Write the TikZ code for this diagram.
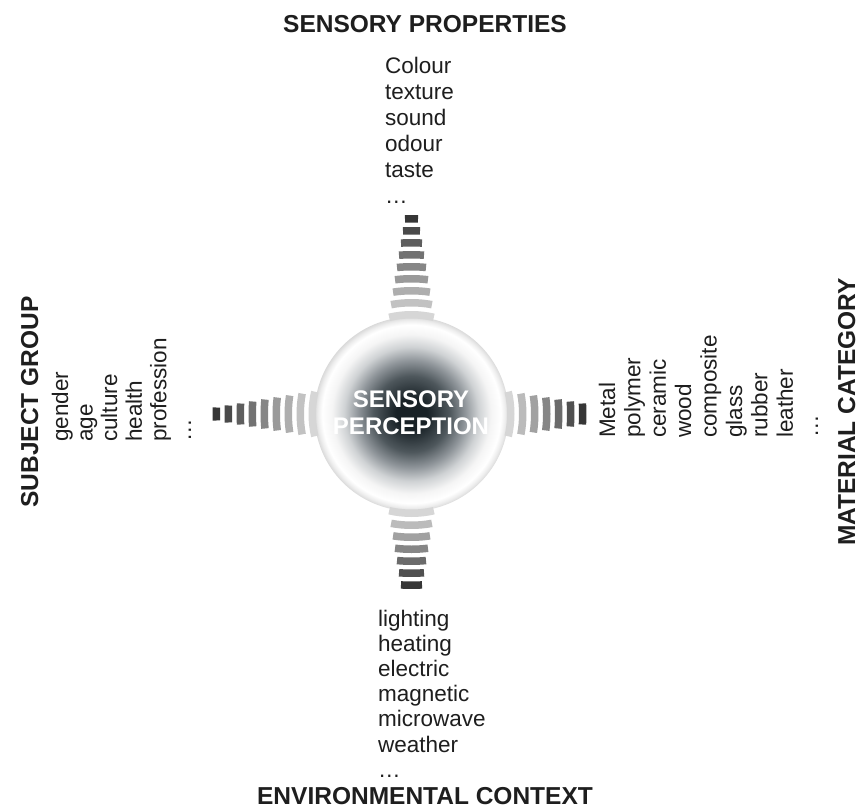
\documentclass[tikz,border=0pt]{standalone}
\usepackage{fontspec}
\setmainfont{Liberation Sans}
\usetikzlibrary{calc}

\definecolor{coredark}{HTML}{182126}
\definecolor{coremid}{HTML}{4E575C}
\definecolor{corelight}{HTML}{8F959A}
\definecolor{corepale}{HTML}{CFD2D4}
\definecolor{rimgray}{HTML}{DADADA}
\definecolor{inkgray}{HTML}{1E1E1E}

% dark core fading to white, with a pale grey rim (25bp = disc radius)
\pgfdeclareradialshading{perceptcore}{\pgfpoint{0bp}{0bp}}{%
  color(0bp)=(coredark); color(4bp)=(coredark); color(9.8bp)=(coremid);
  color(13.8bp)=(corelight); color(17.3bp)=(corepale); color(20.5bp)=(white!96!black);
  color(23bp)=(white); color(24.15bp)=(white!93!black); color(25bp)=(rimgray);
  color(50bp)=(rimgray)}

\tikzset{
  headline/.style={font=\fontsize{24.5}{28}\selectfont\bfseries, inner sep=0pt, text=inkgray},
  entry/.style={font=\fontsize{22.5}{25.8}\selectfont, inner sep=0pt, text=inkgray},
  coretext/.style={font=\fontsize{24}{27}\selectfont\bfseries, inner sep=0pt, text=white, align=center},
}

% a fan of curved bars leaving the disc: #1 direction, #2 index of the last bar
\newcommand\barfan[2]{%
  \foreach \k in {0,...,#2} {
    \pgfmathsetmacro\rin{95.5+12*\k}
    \pgfmathsetmacro\rout{\rin+7.5}
    \pgfmathsetmacro\half{(22.5-2*\k)/(\rin+3.75)*57.2958}
    \pgfmathsetmacro\pct{16+63*\k/#2}
    \fill[black!\pct]
      ($(C)+(#1-\half:\rin pt)$)
      arc[start angle=#1-\half, end angle=#1+\half, radius=\rin pt]
      -- ($(C)+(#1+\half:\rout pt)$)
      arc[start angle=#1+\half, end angle=#1-\half, radius=\rout pt]
      -- cycle;
  }%
}

\begin{document}
\begin{tikzpicture}[x=1pt,y=1pt]
  \useasboundingbox (0,0) rectangle (862,-808);
  \fill[white] (0,0) rectangle (862,-808);

  \coordinate (C) at (411.5,-414);

  % central disc
  \shade[shading=perceptcore] (C) circle[radius=97pt];
  \node[coretext] (perception) at (411,-413) {SENSORY\\PERCEPTION};

  % bar fans
  \barfan{90}{8}
  \barfan{180}{8}
  \barfan{0}{6}
  \barfan{270}{6}

  % top: sensory properties
  \node[headline, anchor=base] (sensprop) at (425,-33) {SENSORY PROPERTIES};
  \foreach \w [count=\i] in {Colour,texture,sound,odour,taste,{\ldots}}
    \node[entry, anchor=base west] (sp\i) at (385,{-74-25.8*(\i-1)}) {\w};

  % bottom: environmental context
  \foreach \w [count=\i] in {lighting,heating,electric,magnetic,microwave,weather,{\ldots}}
    \node[entry, anchor=base west] (ec\i) at (378,{-626-25.2*(\i-1)}) {\w};
  \node[headline, anchor=base] (envctx) at (425,-804) {ENVIRONMENTAL CONTEXT};

  % left: subject group
  \node[headline, anchor=base, rotate=90] (subjgrp) at (38,-402) {SUBJECT GROUP};
  \foreach \w [count=\i] in {gender,age,culture,health,profession,{\ldots}}
    \node[entry, anchor=base west, rotate=90] (sg\i) at ({68+24.6*(\i-1)},-442) {\w};

  % right: material category
  \foreach \w [count=\i] in {Metal,polymer,ceramic,wood,composite,glass,rubber,leather,{\ldots}}
    \node[entry, anchor=base west, rotate=90] (mc\i) at ({615+25.4*(\i-1)},-438) {\w};
  \node[headline, anchor=base, rotate=90] (matcat) at (855,-412) {MATERIAL CATEGORY};
\end{tikzpicture}
\end{document}
